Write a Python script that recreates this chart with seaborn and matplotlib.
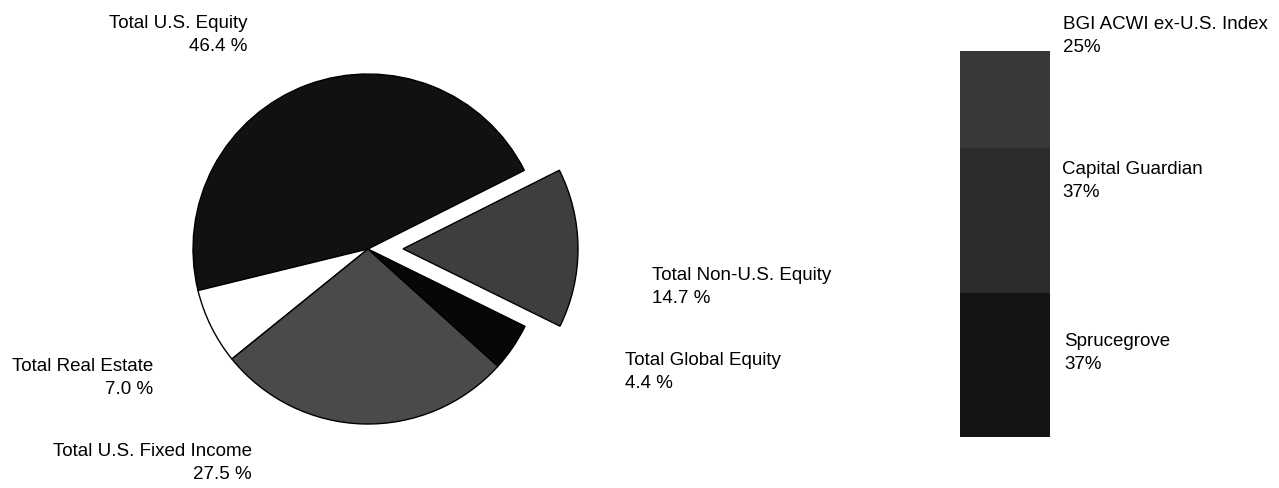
import numpy as np
import pandas as pd
import seaborn as sb
import matplotlib.pyplot as plt

# total fund allocation (pie)
pie_labels = ['Total U.S. Equity', 'Total Real Estate', 'Total U.S. Fixed Income',
              'Total Global Equity', 'Total Non-U.S. Equity']
pie_values = [46.4, 7.0, 27.5, 4.4, 14.7]

# non-U.S. equity managers (stacked bar, bottom to top)
mgr_labels = ['Sprucegrove', 'Capital Guardian', 'BGI ACWI ex-U.S. Index']
mgr_values = [37, 37, 25]

sb.set_theme(style='white')
plt.rcParams['font.family'] = ['Liberation Sans', 'DejaVu Sans']

W, H = 1279, 489
fig = plt.figure(figsize=(W / 100, H / 100), dpi=100, facecolor='w')

# full-figure axes in pixel units (y measured from bottom)
ax = fig.add_axes([0, 0, 1, 1])
R = 175
pie_colors = ['#111111', '#ffffff', '#4a4a4a', '#070707', '#3e3e3e']
explode = [0, 0, 0, 0, 0.2 * R]   # matplotlib explode is in data units here
ax.pie(pie_values, colors=pie_colors, explode=explode, startangle=26.7,
       counterclock=True, center=(368, H - 250), radius=R,
       wedgeprops=dict(edgecolor='black', linewidth=1.0), frame=True)
ax.set_xlim(0, W)
ax.set_ylim(0, H)
ax.set_aspect('equal')
ax.axis('off')

def px(y):
    return H - y

fs = 13.5
# (x, y_center from top, alignment)
pie_label_pos = [(247, 35, 'right'), (153, 378, 'right'), (252, 463, 'right'),
                 (625, 372, 'left'), (652, 287, 'left')]
for lab, val, (x, y, ha) in zip(pie_labels, pie_values, pie_label_pos):
    ax.text(x, px(y), f'{lab}\n{val:.1f} %', ha=ha, va='center', multialignment=ha,
            fontsize=fs, color='black', linespacing=1.5)

# stacked bar for the managers
bx = fig.add_axes([960 / W, (H - 438) / H, 90 / W, 386 / H])
bar_colors = ['#141414', '#2c2c2c', '#383838']
cum = np.cumsum(mgr_values)
df = pd.DataFrame({'g': ['x'] * 3, 'top': cum})
for i in range(len(cum) - 1, -1, -1):
    sb.barplot(data=df.iloc[[i]], x='g', y='top', color=bar_colors[i], width=1.0,
               saturation=1, ax=bx, edgecolor='none', linewidth=0)
bx.set_xlim(-0.5, 0.5)
bx.set_ylim(0, cum[-1])
bx.axis('off')

mgr_label_pos = [(1064, 353), (1062, 181), (1063, 36)]
for lab, val, (x, y) in zip(mgr_labels, mgr_values, mgr_label_pos):
    ax.text(x, px(y), f'{lab}\n{val}%', ha='left', va='center', fontsize=fs,
            color='black', linespacing=1.5)

plt.savefig('out.png', dpi=100, facecolor='w')
